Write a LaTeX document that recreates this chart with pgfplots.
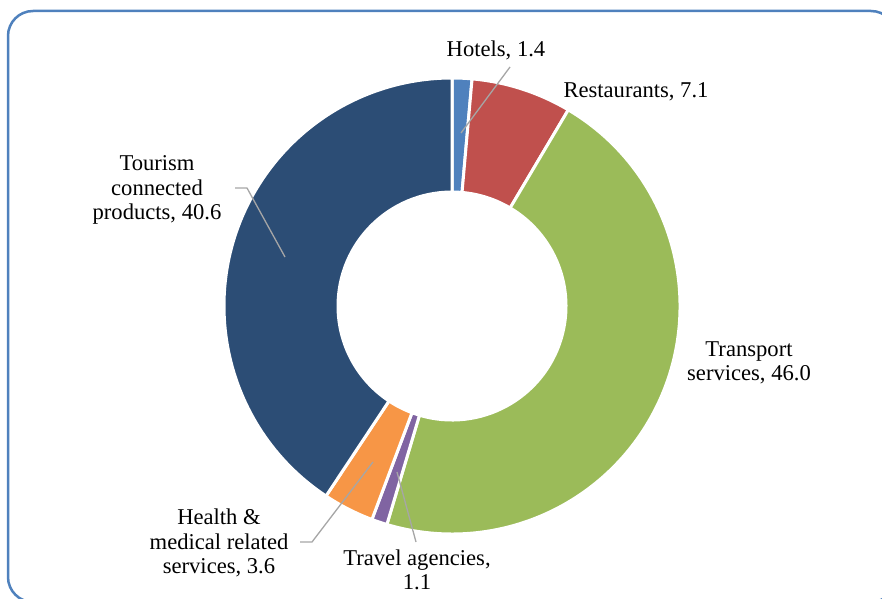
\documentclass[border=0pt]{standalone}
\usepackage{pgfplots}
\pgfplotsset{compat=1.18}
\usepackage{pgfplotstable}
\usepackage{fontspec}
\setmainfont{Liberation Serif}
\usetikzlibrary{calc}
\definecolor{c0}{HTML}{4F81BD}
\definecolor{c1}{HTML}{C0504D}
\definecolor{c2}{HTML}{9BBB59}
\definecolor{c3}{HTML}{8064A2}
\definecolor{c4}{HTML}{F79646}
\definecolor{c5}{HTML}{2C4D75}
\definecolor{frame}{HTML}{4F81BD}
\definecolor{leader}{HTML}{A6A6A6}
\pgfplotstableread{
label value
Hotels 1.4
Restaurants 7.1
Transport 46.0
Travel 1.1
Health 3.6
Tourism 40.6
}\datatable
\begin{document}
\begin{tikzpicture}
\useasboundingbox (0,0) rectangle (882pt,598pt);
\def\total{0}
\pgfplotsforeachungrouped \i in {0,...,5}{%
  \pgfplotstablegetelem{\i}{value}\of\datatable
  \pgfmathsetmacro\total{\total+\pgfplotsretval}}
\def\cum{0}
\pgfplotsforeachungrouped \i in {0,...,5}{%
  \pgfplotstablegetelem{\i}{value}\of\datatable
  \pgfmathsetmacro\st{90-\cum/\total*360}%
  \pgfmathsetmacro\cum{\cum+\pgfplotsretval}%
  \pgfmathsetmacro\en{90-\cum/\total*360}%
  \expandafter\xdef\csname st\i\endcsname{\st}%
  \expandafter\xdef\csname en\i\endcsname{\en}%
}
\begin{axis}[width=882pt,height=598pt,scale only axis,
  xmin=0,xmax=882,ymin=0,ymax=598,hide axis,clip=false,
  at={(0,0)},anchor=south west]
\pgfplotsinvokeforeach{0,...,5}{%
  \fill[c#1, draw=white, line width=3pt, line join=round]
    ($(axis cs:452,292)+(\csname st#1\endcsname:228pt)$)
    arc[start angle=\csname st#1\endcsname, end angle=\csname en#1\endcsname, radius=228pt]
    -- ($(axis cs:452,292)+(\csname en#1\endcsname:114pt)$)
    arc[start angle=\csname en#1\endcsname, end angle=\csname st#1\endcsname, radius=114pt]
    -- cycle;
}
% leader lines
\draw[leader, line width=1.3pt] (axis cs:510,531) -- (axis cs:461,465);
\draw[leader, line width=1.3pt] (axis cs:235,410) -- (axis cs:247,410) -- (axis cs:285,341);
\draw[leader, line width=1.3pt] (axis cs:300,56) -- (axis cs:312,56) -- (axis cs:373,136);
\draw[leader, line width=1.3pt] (axis cs:416,56) -- (axis cs:397,126);
% labels
\tikzset{lbl/.style={align=center, inner sep=0pt, font=\fontsize{22.6}{24.5}\selectfont}}
\node[lbl] at (axis cs:496,548) {Hotels, 1.4};
\node[lbl] at (axis cs:636,506) {Restaurants, 7.1};
\node[lbl] at (axis cs:749,235) {Transport\\services, 46.0};
\node[lbl] at (axis cs:417,28) {Travel agencies,\\1.1};
\node[lbl] at (axis cs:219,55) {Health \&\\medical related\\services, 3.6};
\node[lbl] at (axis cs:157,408) {Tourism\\connected\\products, 40.6};
\end{axis}
\draw[frame, line width=2.5pt, rounded corners=25pt] (8pt,-4pt) rectangle (896pt,587pt);
\end{tikzpicture}
\end{document}
